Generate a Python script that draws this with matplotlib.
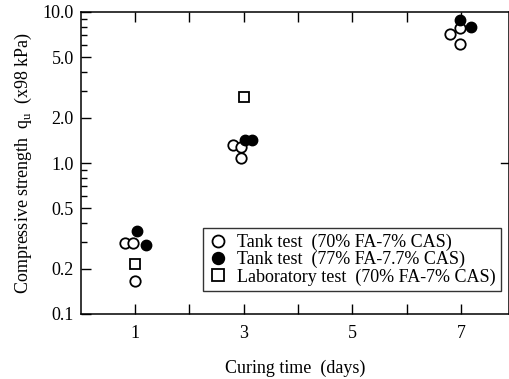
import matplotlib
matplotlib.use("Agg")
import matplotlib.pyplot as plt
from matplotlib.ticker import FixedLocator, NullFormatter, FixedFormatter, LogLocator

plt.rcParams['font.family'] = ['Liberation Serif', 'DejaVu Serif']

# Tank test (70% FA-7% CAS) - open circles
open_x = [0.82, 0.97, 1.0, 2.8, 2.95, 2.95, 6.8, 6.97, 6.97]
open_y = [0.295, 0.295, 0.166, 1.31, 1.28, 1.08, 7.2, 7.8, 6.1]
# Tank test (77% FA-7.7% CAS) - filled circles
fill_x = [1.04, 1.2, 3.02, 3.16, 6.97, 7.18]
fill_y = [0.355, 0.285, 1.42, 1.42, 8.9, 7.9]
# Laboratory test (70% FA-7% CAS) - squares
lab_x = [1.0, 3.0]
lab_y = [0.215, 2.75]

xticks = [1, 2, 3, 4, 5, 6, 7]
xticklabels = ["1", "", "3", "", "5", "", "7"]
yticks = [0.1, 0.2, 0.5, 1.0, 2.0, 5.0, 10.0]
yticklabels = ["0.1", "0.2", "0.5", "1.0", "2.0", "5.0", "10.0"]

fs = 13

fig = plt.figure(figsize=(5.10, 3.79), dpi=100)
ax = fig.add_axes([80.7/510, 1 - 314/379, (509 - 80.7)/510, (314 - 12)/379])

ms = 7.5
ax.plot(open_x, open_y, 'o', ms=ms, mfc='white', mec='black', mew=1.3, ls='none',
        label='Tank test  (70% FA-7% CAS)')
ax.plot(fill_x, fill_y, 'o', ms=ms, mfc='black', mec='black', mew=1.0, ls='none',
        label='Tank test  (77% FA-7.7% CAS)')
ax.plot(lab_x, lab_y, 's', ms=ms, mfc='white', mec='black', mew=1.3, ls='none',
        label='Laboratory test  (70% FA-7% CAS)')

ax.set_yscale('log')
ax.set_ylim(0.1, 10.0)
ax.set_xlim(0, 7.88)

ax.yaxis.set_major_locator(FixedLocator(yticks))
ax.yaxis.set_major_formatter(FixedFormatter(yticklabels))
ax.yaxis.set_minor_locator(LogLocator(base=10, subs=(0.3, 0.4, 0.6, 0.7, 0.8, 0.9), numticks=10))
ax.yaxis.set_minor_formatter(NullFormatter())
ax.xaxis.set_major_locator(FixedLocator(xticks))
ax.xaxis.set_major_formatter(FixedFormatter(xticklabels))

ax.tick_params(axis='x', which='major', direction='in', length=7, width=1, top=True,
               labelsize=fs, pad=8)
ax.tick_params(axis='y', which='major', direction='in', length=7, width=1,
               labelsize=fs, pad=5)
ax.tick_params(axis='y', which='minor', direction='in', length=4, width=1)

for s in ax.spines.values():
    s.set_linewidth(1.1)

# single tick on right spine at 1.0
ax.plot([7.88, 7.74], [1.0, 1.0], color='black', lw=1, clip_on=False)

ax.set_xlabel('Curing time  (days)', fontsize=fs, labelpad=13)
ax.set_ylabel(r'Compressive strength  q$_\mathregular{u}$  (x98 kPa)', fontsize=fs, labelpad=6)

leg = ax.legend(loc='lower right', bbox_to_anchor=(0.981, 0.076), fontsize=13,
                frameon=True, fancybox=False, edgecolor='black', handletextpad=0.55,
                borderpad=0.3, labelspacing=0.0, handlelength=1.0, borderaxespad=0,
                markerscale=1.15)
leg.get_frame().set_linewidth(1.0)

fig.savefig('out.png', dpi=100)
